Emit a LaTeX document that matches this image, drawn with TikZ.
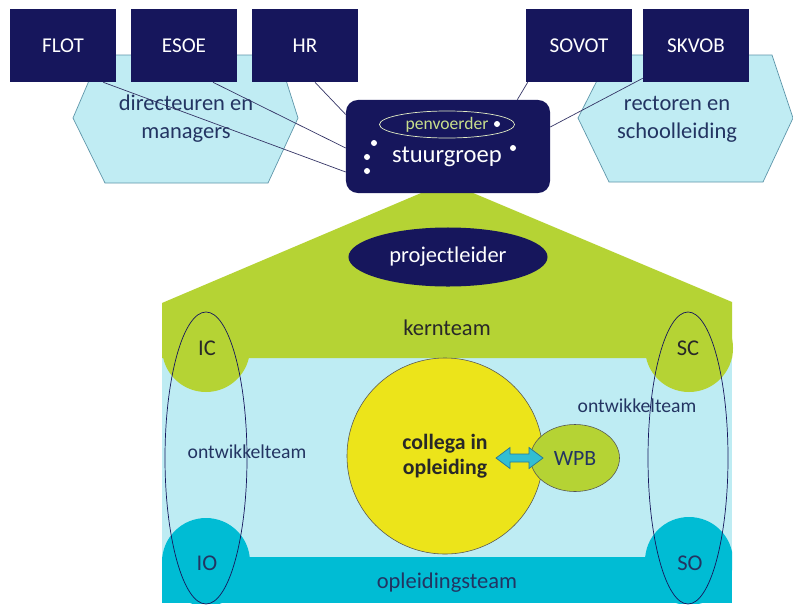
\documentclass[tikz,border=0pt]{standalone}
\usepackage{fontspec}
\setmainfont{Carlito}
\usetikzlibrary{shapes.geometric,calc}

\definecolor{navy}{RGB}{22,22,92}
\definecolor{hexblue}{RGB}{192,236,243}
\definecolor{hexline}{RGB}{95,150,170}
\definecolor{lime}{RGB}{181,211,52}
\definecolor{paleblue}{RGB}{190,236,243}
\definecolor{teamcyan}{RGB}{0,188,212}
\definecolor{coyellow}{RGB}{236,228,26}
\definecolor{inktext}{RGB}{35,52,98}
\definecolor{darktext}{RGB}{40,40,40}
\definecolor{penvtext}{RGB}{200,222,140}
\definecolor{arrowfill}{RGB}{50,190,210}
\definecolor{arrowline}{RGB}{40,120,150}

\tikzset{
  orgbox/.style={fill=navy, text=white, minimum width=2.65cm, minimum height=1.825cm,
    font=\fontsize{15}{18}\selectfont},
  hexa/.style={fill=hexblue, draw=hexline, line width=0.5pt},
  hextext/.style={text=inktext, align=center, font=\fontsize{16}{20}\selectfont},
  link/.style={draw=navy!70!gray, line width=0.5pt},
  team/.style={draw=navy, line width=0.5pt},
  teamtext/.style={text=inktext, font=\fontsize{16}{19}\selectfont},
  kerntext/.style={text=darktext, font=\fontsize{16}{19}\selectfont}
}

\begin{document}
\begin{tikzpicture}[x=0.025cm, y=-0.025cm]
        \useasboundingbox (0,0) rectangle (793,605);
        \fill[white] (0,0) rectangle (793,605);
        % schoolbesturen
        \filldraw[hexa] (100,55) -- (73,118) -- (105,183) -- (268,183) -- (298,118) -- (278,55) -- cycle;
        \filldraw[hexa] (610,55) -- (578,118) -- (609,182) -- (763,182) -- (793,118) -- (772,55) -- cycle;
        \node[hextext] (dir) at (186,119) {directeuren en\\managers};
        \node[hextext] (rect) at (677,119) {rectoren en\\schoolleiding};
        \node[orgbox] (flot) at (63,45.5) {FLOT};
        \node[orgbox] (esoe) at (184,45.5) {ESOE};
        \node[orgbox] (hr) at (305,45.5) {HR};
        \node[orgbox] (sovot) at (579,45.5) {SOVOT};
        \node[orgbox] (skvob) at (696,45.5) {SKVOB};

        % huis
        \fill[paleblue] (162,330) rectangle (732,600);
        \fill[lime] (447,182) -- (732,302) -- (732,358) -- (162,358) -- (162,303) -- cycle;
        \fill[lime] (206,348) circle (44) (689,348) circle (44);
        \begin{scope}
            \clip (162,300) rectangle (732,603);
            \fill[teamcyan] (162,557) rectangle (732,603);
            \fill[teamcyan] (206,562) circle (44) (689,561) circle (44);
        \end{scope}
        \draw[team] (206,458) ellipse (41 and 146);
        \draw[team] (688,458) ellipse (40 and 146);

        \node[ellipse, fill=navy, text=white, minimum width=4.975cm, minimum height=1.475cm,
            font=\fontsize{16}{19}\selectfont] (leider) at (448,257) {projectleider};
        \node[kerntext] (kern) at (447,328) {kernteam};
        \node[kerntext] (ic) at (207,348) {IC};
        \node[kerntext] (sc) at (688,348) {SC};
        \node[teamtext, font=\fontsize{14}{17}\selectfont] (ontl) at (247,452) {ontwikkelteam};
        \node[teamtext, font=\fontsize{14}{17}\selectfont] (ontr) at (637,406) {ontwikkelteam};
        \node[teamtext] (io) at (207,563) {IO};
        \node[teamtext] (so) at (690,563) {SO};
        \node[teamtext] (opl) at (447,583) {opleidingsteam};

        \node[circle, fill=coyellow, draw=darktext!80, line width=0.4pt, minimum size=4.9cm,
            align=center, text=darktext, font=\bfseries\fontsize{15.5}{18}\selectfont] (collega) at (445,456) {collega in\\opleiding};
        \node[ellipse, fill=lime, draw=darktext!80, line width=0.4pt, minimum width=2.225cm,
            minimum height=1.675cm, inner sep=0pt, text=inktext,
            font=\fontsize{15.5}{18}\selectfont] (wpb) at (575,458) {WPB};
        % dubbele pijl
        \coordinate (swap) at (519.5,458);
        \filldraw[fill=arrowfill, draw=arrowline, line width=0.5pt]
            ($(swap)+(-23.5,0)$) -- ++(14,-10.5) -- ++(0,6.5) -- ++(19,0) -- ++(0,-6.5)
            -- ++(14,10.5) -- ++(-14,10.5) -- ++(0,-6.5) -- ++(-19,0) -- ++(0,6.5) -- cycle;

        % lijnen naar de stuurgroep
        \node[fill=navy, rounded corners=0.3cm, minimum width=5.1cm, minimum height=2.325cm] (stuur) at (448,146.5) {};
        \draw[link] ($(flot.south east)+(-13,0)$) -- ($(stuur.west)+(0,25.5)$);
        \draw[link] ($(esoe.south)+(29,0)$) -- ($(stuur.west)+(0,1.5)$);
        \draw[link] ($(hr.south)+(10,0)$) -- ($(stuur.west)+(0,-32)$);
        \draw[link] ($(sovot.south west)+(2,0)$) -- ($(stuur.north east)+(-33,0)$);
        \draw[link] ($(skvob.south west)+(0,-4)$) -- ($(stuur.east)+(0,-19.5)$);
        \node[ellipse, draw=penvtext!50!white, line width=0.5pt, minimum width=3.375cm, minimum height=0.675cm,
            inner sep=0pt, text=penvtext, font=\fontsize{12.5}{15}\selectfont] (penv) at (447,124.5) {penvoerder};
        \node[text=white, font=\fontsize{17.5}{21}\selectfont] (stuurtxt) at (447,157) {stuurgroep};
        \fill[white] (374,143) circle (3) (367,157) circle (3) (367,171) circle (3)
                     (497,124) circle (3) (513,148) circle (3);
\end{tikzpicture}
\end{document}
